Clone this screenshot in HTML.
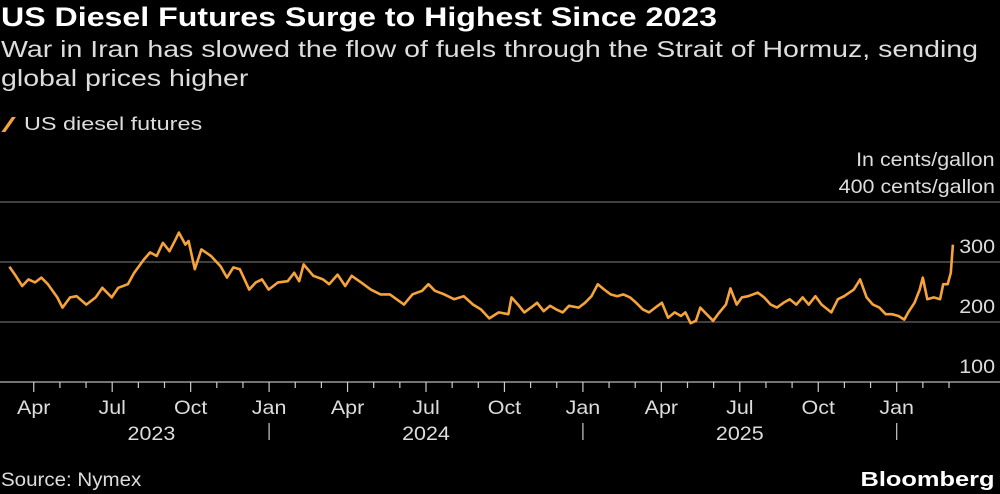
<!DOCTYPE html>
<html><head><meta charset="utf-8"><style>
body{margin:0;background:#000;width:1000px;height:494px;overflow:hidden;font-family:"Liberation Sans",sans-serif;color:#fff}
.t{position:absolute;white-space:nowrap}
.sl{transform-origin:left top}
.sr{transform-origin:right top}
</style></head><body>
<div class="t sl" style="left:1px;top:2px;font-size:27px;font-weight:bold;transform:scaleX(1.19)">US Diesel Futures Surge to Highest Since 2023</div>
<div class="t sl" style="left:1px;top:35px;font-size:23px;line-height:29px;color:#ddd;transform:scaleX(1.24)">War in Iran has slowed the flow of fuels through the Strait of Hormuz, sending<br>global prices higher</div>
<div class="t" style="left:3px;top:114px;font-size:17px;color:#ddd"><span style="display:inline-block;width:4px;height:15px;background:#f5a33a;transform:skew(-35deg) translateY(2px);margin-right:12px;margin-left:5px"></span><span style="display:inline-block;transform:scaleX(1.3);transform-origin:left;font-size:18px">US diesel futures</span></div>
<div class="t sr" style="right:5px;top:150px;font-size:19px;color:#ddd;text-align:right;transform:scaleX(1.13)">In cents/gallon</div>
<svg id="c" width="1000" height="494" style="position:absolute;left:0;top:0"></svg>
<div class="t sl" style="left:1px;top:470px;font-size:19px;color:#ddd;transform:scaleX(1.08)">Source: Nymex</div>
<div class="t sr" style="right:5px;top:469px;font-size:20px;font-weight:bold;transform:scaleX(1.27)">Bloomberg</div>
<script>
const months=[2.07,2.31,2.56,2.80,3.05,3.29,3.54,3.90,4.10,4.39,4.64,5.01,5.37,5.62,5.98,6.23,6.60,6.84,7.21,7.45,7.70,7.94,8.19,8.43,8.55,8.80,8.92,9.16,9.41,9.78,10.14,10.39,10.63,10.88,11.24,11.49,11.73,11.98,12.34,12.71,12.96,13.15,13.32,13.69,14.06,14.30,14.62,14.91,15.16,15.52,15.89,16.26,16.62,16.87,17.16,17.48,17.85,18.09,18.34,18.70,19.07,19.44,19.80,20.10,20.42,20.78,21.15,21.27,21.52,21.76,22.01,22.25,22.50,22.74,22.98,23.23,23.47,23.84,24.08,24.33,24.57,24.82,25.06,25.31,25.55,25.80,26.04,26.29,26.53,26.77,27.02,27.26,27.51,27.75,27.92,28.12,28.32,28.49,28.73,28.98,29.22,29.47,29.64,29.88,30.08,30.32,30.69,30.93,31.18,31.42,31.67,31.91,32.16,32.40,32.64,32.89,33.13,33.50,33.75,33.99,34.36,34.60,34.85,35.09,35.34,35.58,35.83,36.07,36.29,36.44,36.68,36.88,37.00,37.17,37.42,37.66,37.78,37.95,38.07,38.15];
const prices=[292,277,260,271,266,274,263,241,224,241,243,229,241,257,241,257,263,282,304,316,310,332,318,338,349,329,335,288,321,310,293,274,291,288,254,266,271,254,266,268,282,268,296,277,271,263,279,260,277,266,254,246,246,238,229,246,252,263,252,246,238,243,229,221,206,216,213,241,229,216,224,232,218,227,221,216,227,224,232,243,263,254,246,243,246,241,232,221,216,224,232,207,216,210,216,198,202,224,213,202,216,229,256,229,241,243,249,241,229,224,232,238,229,241,229,243,229,216,238,243,254,271,241,229,224,213,213,210,204,216,232,254,274,238,241,238,263,263,282,329];
const yTicks=[100,200,300,400];
const yTickLabels=["100","200","300","400 cents/gallon"];
const monthLabels=["Apr","Jul","Oct","Jan","Apr","Jul","Oct","Jan","Apr","Jul","Oct","Jan"];
const monthLabelIdx=[3,6,9,12,15,18,21,24,27,30,33,36];
const years=["2023","2024","2025"];
const yearCenters=[7.5,18,30];
const yearBreaks=[12,24,36];
const NS="http://www.w3.org/2000/svg",svg=document.getElementById('c');
const X=m=>-44.7+m*26.15, Y=v=>382-(v-100)*0.6;
function mk(t,a,txt){const e=document.createElementNS(NS,t);for(const k in a)e.setAttribute(k,a[k]);if(txt!=null)e.textContent=txt;svg.appendChild(e);return e;}
function txt(x,y,s,anchor){return mk('text',{x:0,y:0,transform:`translate(${x},${y}) scale(1.13,1)`,'text-anchor':anchor,'font-size':19,fill:'#ddd','font-family':'Liberation Sans'},s);}
yTicks.forEach((v,i)=>{
 const l=mk('line',{x1:0,x2:1000,y1:Y(v),y2:Y(v),stroke:v==100?'#999':'#666','stroke-width':v==100?1.5:1.2});
 
 
 const t=txt(995,Y(v)-9,yTickLabels[i],'end');
 
 
});
for(let m=3;m<=38;m++){
 const maj=monthLabelIdx.includes(m);
 const l=mk('line',{x1:X(m),x2:X(m),y1:382,y2:maj?392:388,stroke:'#ccc','stroke-width':1.2});
 
 
}
monthLabels.forEach((s,i)=>{
 const t=txt(X(monthLabelIdx[i]),414,s,'middle');
 
 
});
years.forEach((s,i)=>{
 const t=txt(X(yearCenters[i]),440,s,'middle');
 
 
});
yearBreaks.forEach(m=>{
 const l=mk('line',{x1:X(m),x2:X(m),y1:423,y2:440,stroke:'#ccc','stroke-width':1.2});
 
 
});
const p=mk('path',{d:months.map((m,i)=>(i?'L':'M')+X(m).toFixed(1)+','+Y(prices[i]).toFixed(1)).join(''),fill:'none',stroke:'#f5a33a','stroke-width':2.6,'stroke-linejoin':'round'});


</script>
</body></html>
